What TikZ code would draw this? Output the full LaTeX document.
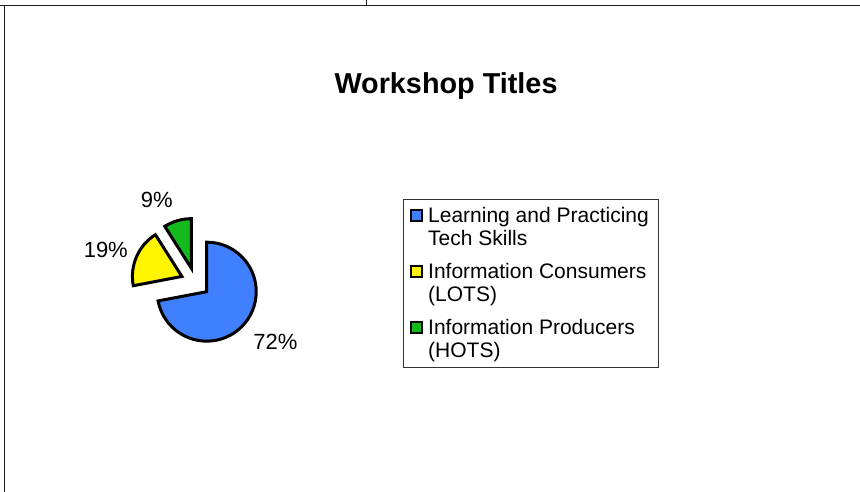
\documentclass[tikz,border=0pt]{standalone}
\usepackage{fontspec}
\setmainfont{Liberation Sans}
\usetikzlibrary{positioning,calc}
\definecolor{pieblue}{RGB}{64, 128, 255}
\definecolor{pieyellow}{RGB}{255, 245, 0}
\definecolor{piegreen}{RGB}{20, 185, 30}
\definecolor{framegray}{RGB}{30, 30, 30}

\begin{document}
\begin{tikzpicture}[x=1pt, y=1pt,
			slice/.style={draw=black, line width=3pt, line join=miter},
			pctlabel/.style={inner sep=0pt, anchor=base, font=\fontsize{22}{26}\selectfont},
			entry/.style={inner sep=0pt, anchor=base west, font=\fontsize{21}{25}\selectfont},
			key/.style={draw=black, line width=2.2pt, minimum size=11pt, inner sep=0pt},
			frameLine/.style={line width=1.4pt, color=framegray},
			legendBox/.style={line width=1pt, color=black!80}
			]
			\useasboundingbox (0,0) rectangle (860,492);
			
			% sheet frame
			\coordinate (tl) at (4.7,486.5);
			\draw [frameLine] (0,486.5) -- (860,486.5);
			\draw [frameLine] (tl) -- (4.7,0);
			\draw [frameLine] (366.7,486.5) -- (366.7,492);
			
			\node[inner sep=0pt, anchor=base, font=\fontsize{28.8}{34}\selectfont\bfseries](title) at (446,398.7) {Workshop Titles};
			
			% exploded pie
			\coordinate (c) at (195.4,209.7);
			\draw [slice, fill=pieblue] ($(c)+(-39.6:14.7)$) -- ++(90:49.5) arc[start angle=90, end angle=-169.2, radius=49.5pt] -- cycle;
			\draw [slice, fill=pieyellow] ($(c)+(156.6:14.7)$) -- ++(122.4:49.5) arc[start angle=122.4, end angle=190.8, radius=49.5pt] -- cycle;
			\draw [slice, fill=piegreen] ($(c)+(106.2:14.7)$) -- ++(90:49.5) arc[start angle=90, end angle=122.4, radius=49.5pt] -- cycle;
			
			\node[pctlabel](p72) at (275.5,142.7) {72\%};
			\node[pctlabel](p19) at (105.8,234.3) {19\%};
			\node[pctlabel](p9) at (156.7,284.3) {9\%};
			
			% legend
			\draw [legendBox] (403.3,124.7) rectangle (658.3,292.7);
			\node[entry](learn) at (428,269) {Learning and Practicing};
			\node[entry](tech) at ([yshift=-22.3pt]learn.base west) {Tech Skills};
			\node[entry](cons) at (428,213) {Information Consumers};
			\node[entry](lots) at ([yshift=-22.3pt]cons.base west) {(LOTS)};
			\node[entry](prod) at (428,157) {Information Producers};
			\node[entry](hots) at ([yshift=-22.3pt]prod.base west) {(HOTS)};
			
			\node[key, fill=pieblue](klearn) [left = 5pt of learn.base west, yshift=7.3pt] {};
			\node[key, fill=pieyellow](kcons) [left = 5pt of cons.base west, yshift=7.3pt] {};
			\node[key, fill=piegreen](kprod) [left = 5pt of prod.base west, yshift=7.3pt] {};
			\end{tikzpicture}
\end{document}
